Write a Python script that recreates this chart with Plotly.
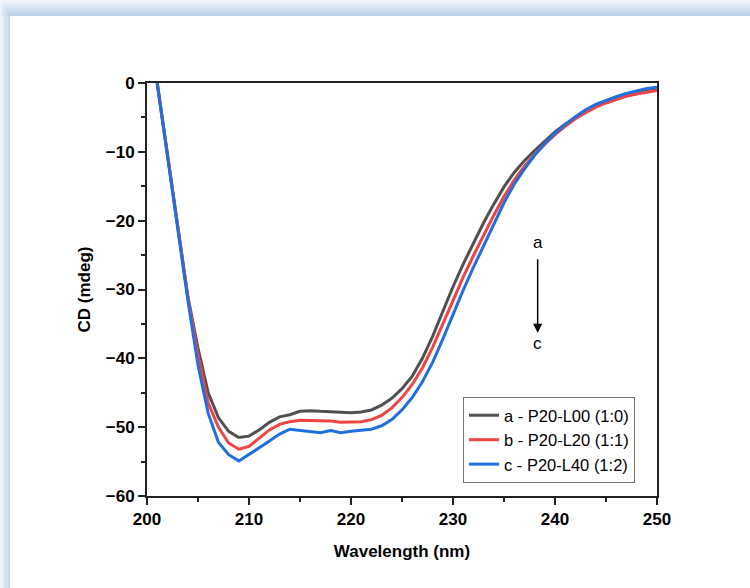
import plotly.graph_objects as go

wavelength = list(range(201, 251))
cd_a = [0, -10.5, -21, -31, -38.5, -45.0, -48.6, -50.6, -51.5, -51.3,
        -50.4, -49.3, -48.5, -48.2, -47.7, -47.6, -47.7, -47.8, -47.9, -47.9,
        -47.8, -47.5, -46.8, -45.8, -44.4, -42.6, -40.0, -36.8, -33.2, -29.6,
        -26.3, -23.2, -20.3, -17.6, -15.1, -13.0, -11.3, -9.8, -8.4, -7.1,
        -6.0, -5.0, -4.1, -3.4, -2.8, -2.3, -1.9, -1.5, -1.2, -1.0]
cd_b = [0, -10.5, -21, -31, -39.5, -46.5, -50.0, -52.3, -53.2, -52.8,
        -51.6, -50.4, -49.6, -49.2, -49.0, -49.0, -49.0, -49.1, -49.3, -49.3,
        -49.2, -48.9, -48.3, -47.2, -45.7, -43.8, -41.4, -38.4, -35.0, -31.5,
        -28.2, -25.1, -22.1, -19.2, -16.5, -14.1, -12.1, -10.4, -8.9, -7.5,
        -6.3, -5.2, -4.3, -3.5, -2.9, -2.4, -1.9, -1.6, -1.3, -1.1]
cd_c = [0, -10.5, -21, -31.5, -41.0, -48.0, -52.2, -54.0, -54.9, -54.0,
        -53.0, -52.0, -51.0, -50.3, -50.5, -50.7, -50.8, -50.5, -50.8, -50.6,
        -50.5, -50.3, -49.8, -48.9, -47.5, -45.7, -43.4, -40.6, -37.2, -33.6,
        -30.1, -26.8, -23.6, -20.4, -17.4, -14.7, -12.5, -10.5, -8.8, -7.3,
        -6.0, -4.9, -3.9, -3.1, -2.5, -2.0, -1.5, -1.1, -0.8, -0.6]

series_names = ["a - P20-L00 (1:0)", "b - P20-L20 (1:1)", "c - P20-L40 (1:2)"]
series_colors = ["#505050", "#f04444", "#1f6fe0"]

x_ticks = [200, 210, 220, 230, 240, 250]
y_ticks = [0, -10, -20, -30, -40, -50, -60]

W, H = 750, 588
ML, MR, MT, MB = 147, 93, 83, 92
PW, PH = W - ML - MR, H - MT - MB


def px(x):
    return (x - ML) / PW


def py(y):
    return (H - MB - y) / PH


fig = go.Figure()
for name, ys, col in zip(series_names, [cd_a, cd_b, cd_c], series_colors):
    fig.add_trace(go.Scatter(x=wavelength, y=ys, mode="lines", name=name,
                             line=dict(color=col, width=3)))

# decorative frame (light blue gradient at top and left)
shapes = []
n = 8


def mix(t):
    c0 = (246, 249, 252)
    c1 = (188, 212, 232)
    return "rgb(%d,%d,%d)" % tuple(round(a + (b - a) * t) for a, b in zip(c0, c1))


for i in range(n):
    t = (i + 1) / n
    y0 = i * 2
    shapes.append(dict(type="rect", xref="paper", yref="paper",
                       x0=px(0), x1=px(W), y0=py(y0), y1=py(y0 + 2),
                       fillcolor=mix(t), line=dict(width=0), layer="below"))
for i in range(n):
    t = (i + 1) / n
    x0 = i * 1.25
    shapes.append(dict(type="rect", xref="paper", yref="paper",
                       x0=px(x0), x1=px(x0 + 1.25), y0=py(2 * (i + 1)), y1=py(H),
                       fillcolor=mix(t), line=dict(width=0), layer="below"))

fig.update_layout(
    width=W, height=H,
    margin=dict(l=ML, r=MR, t=MT, b=MB),
    paper_bgcolor="white", plot_bgcolor="white",
    font=dict(family="Liberation Sans, Arial", color="black"),
    shapes=shapes,
    showlegend=True,
    legend=dict(x=px(463), y=py(397), xanchor="left", yanchor="top",
                bgcolor="white", bordercolor="#777777", borderwidth=1,
                font=dict(size=16.5, color="black"), tracegroupgap=0,
                itemwidth=30),
    annotations=[
        dict(x=238.3, y=-23.1, text="a", showarrow=False, font=dict(size=17)),
        dict(x=238.3, y=-37.9, text="c", showarrow=False, font=dict(size=17)),
        dict(x=238.3, y=-36.3, ax=238.3, ay=-25.4, xref="x", yref="y",
             axref="x", ayref="y", text="", showarrow=True,
             arrowhead=2, arrowsize=1.2, arrowwidth=1.5, arrowcolor="black"),
    ],
)
fig.update_xaxes(
    range=[200, 250], tickvals=x_ticks, ticks="outside", ticklen=7, tickwidth=2,
    tickcolor="#222", showline=True, linecolor="#222", linewidth=2, mirror=True,
    showgrid=False, zeroline=False,
    tickfont=dict(size=17, weight="bold"),
    title=dict(text="<b>Wavelength (nm)</b>", font=dict(size=17), standoff=17),
    minor=dict(tickvals=[205, 215, 225, 235, 245], ticks="outside", ticklen=4,
               tickwidth=2, tickcolor="#222"),
)
fig.update_yaxes(
    range=[-60, 0], tickvals=y_ticks, ticks="outside", ticklen=7, tickwidth=2,
    tickcolor="#222", showline=True, linecolor="#222", linewidth=2, mirror=True,
    showgrid=False, zeroline=False,
    tickfont=dict(size=17, weight="bold"),
    title=dict(text="<b>CD (mdeg)</b>", font=dict(size=17), standoff=11),
    minor=dict(tickvals=[-5, -15, -25, -35, -45, -55], ticks="outside", ticklen=4,
               tickwidth=2, tickcolor="#222"),
)

fig.write_html("out.html", config={"displayModeBar": False},
               post_script="document.body.style.margin='0';")
